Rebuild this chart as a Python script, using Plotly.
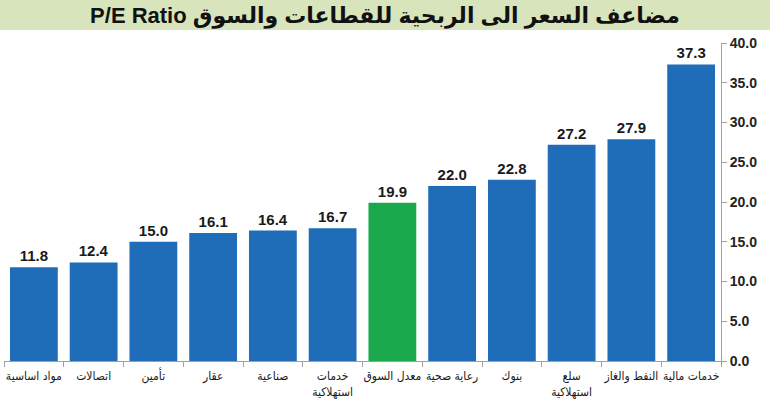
import plotly.graph_objects as go

categories = ["مواد اساسية", "اتصالات", "تأمين", "عقار", "صناعية", "خدمات<br>استهلاكية",
              "معدل السوق", "رعاية صحية", "بنوك", "سلع<br>استهلاكية", "النفط والغاز", "خدمات مالية"]
values = [11.8, 12.4, 15.0, 16.1, 16.4, 16.7, 19.9, 22.0, 22.8, 27.2, 27.9, 37.3]
highlight = "معدل السوق"
y_ticks = [0, 5, 10, 15, 20, 25, 30, 35, 40]

BLUE = "#1f6cb8"
GREEN = "#19a84c"
colors = [GREEN if c == highlight else BLUE for c in categories]
FONT = "Liberation Sans, DejaVu Sans, Arial"

fig = go.Figure(go.Bar(
    x=categories, y=values,
    marker=dict(color=colors, line=dict(width=0)),
    text=[f"<b>{v:.1f}</b>" for v in values],
    textposition="outside",
    textfont=dict(size=15, color="#1a1a1a", family=FONT),
    cliponaxis=False,
))

W, H = 770, 404
ml, mr, mt, mb = 4, 49, 43, 43
pw, ph = W - ml - mr, H - mt - mb

fig.add_shape(type="rect", xref="paper", yref="paper",
              x0=-ml / pw, x1=(W - ml) / pw,
              y0=1 + (mt - 30) / ph, y1=1 + mt / ph,
              fillcolor="#d8e4bc", line=dict(width=0), layer="below")

fig.update_layout(
    width=W, height=H,
    margin=dict(l=ml, r=mr, t=mt, b=mb, autoexpand=False),
    paper_bgcolor="white", plot_bgcolor="white",
    bargap=0.2,
    showlegend=False,
    title=dict(text="<b>P/E Ratio مضاعف السعر الى الربحية للقطاعات والسوق</b>",
               x=0.5, xref="container", xanchor="center",
               y=1 - 15 / H, yref="container", yanchor="middle",
               font=dict(size=22, color="#111", family=FONT)),
    font=dict(family=FONT, color="#222"),
    xaxis=dict(showline=True, linecolor="#a0a0a0", linewidth=1,
               ticks="outside", tickson="boundaries", ticklen=5, tickcolor="#a0a0a0",
               tickangle=0, automargin=False, ticklabelstandoff=4,
               tickfont=dict(size=12, color="#1a1a1a",
                             family="DejaVu Sans Condensed, DejaVu Sans"),
               showgrid=False, range=[-0.5, 11.5]),
    yaxis=dict(side="right", range=[0, 40], tickvals=y_ticks,
               ticktext=[f"<b>{v:.1f}</b>" for v in y_ticks],
               showline=True, linecolor="#a0a0a0", linewidth=1,
               ticks="outside", ticklen=5, tickcolor="#a0a0a0",
               tickfont=dict(size=14, color="#222"), automargin=False,
               showgrid=False, zeroline=False),
)

fig.write_html("out.html")
